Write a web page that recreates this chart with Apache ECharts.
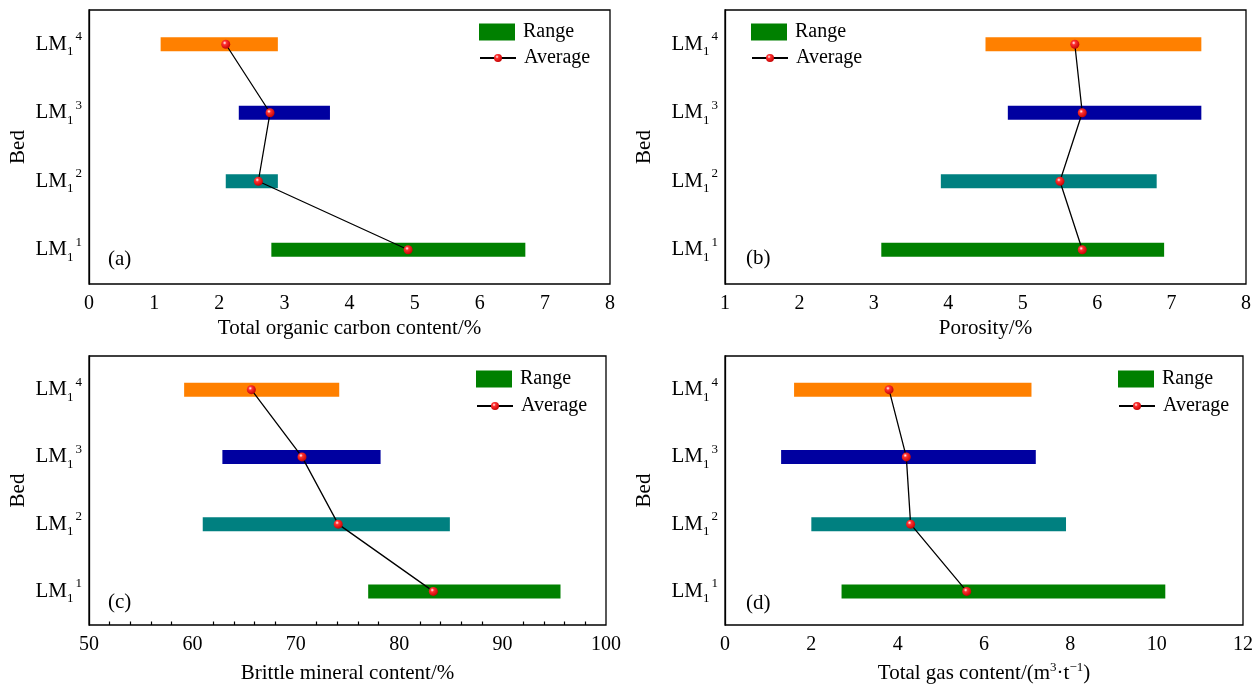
<!DOCTYPE html>
<html>
<head>
<meta charset="utf-8">
<script src="https://cdn.jsdelivr.net/npm/echarts@6/dist/echarts.min.js"></script>
<style>
  html, body { margin: 0; padding: 0; background: #fff; }
  #chart { width: 1260px; height: 686px; }
</style>
</head>
<body>
<div id="chart"></div>
<script>
// beds, bottom to top: LM1^1 .. LM1^4
const beds = ["1", "2", "3", "4"];
const bedColors = ["#008000", "#008080", "#0000A0", "#FF8000"];

// (a) total organic carbon content, %
const tocMin = [2.8, 2.1, 2.3, 1.1];
const tocMax = [6.7, 2.9, 3.7, 2.9];
const tocAvg = [4.9, 2.6, 2.78, 2.1];

// (b) porosity, %
const porMin = [3.1, 3.9, 4.8, 4.5];
const porMax = [6.9, 6.8, 7.4, 7.4];
const porAvg = [5.8, 5.5, 5.8, 5.7];

// (c) brittle mineral content, %
const briMin = [77.0, 61.0, 62.9, 59.2];
const briMax = [95.6, 84.9, 78.2, 74.2];
const briAvg = [83.3, 74.1, 70.6, 65.7];

// (d) total gas content, m3/t
const gasMin = [2.7, 2.0, 1.3, 1.6];
const gasMax = [10.2, 7.9, 7.2, 7.1];
const gasAvg = [5.6, 4.3, 4.2, 3.8];

const FONT = "Liberation Serif";

const panels = [
  {
    tag: "(a)", name: "Total organic carbon content/%",
    min: 0, max: 8, step: 1, minor: false,
    lo: tocMin, hi: tocMax, avg: tocAvg,
    grid: { left: 89, top: 10, width: 521, height: 274 },
    gapX: 32, gapY: 60, legend: [479, 22, 48], tagPos: [108, 249],
  },
  {
    tag: "(b)", name: "Porosity/%",
    min: 1, max: 8, step: 1, minor: false,
    lo: porMin, hi: porMax, avg: porAvg,
    grid: { left: 725, top: 10, width: 521, height: 274 },
    gapX: 32, gapY: 70, legend: [751, 22, 48], tagPos: [746, 248],
  },
  {
    tag: "(c)", name: "Brittle mineral content/%",
    min: 50, max: 100, step: 10, minor: true,
    lo: briMin, hi: briMax, avg: briAvg,
    grid: { left: 89, top: 356, width: 517, height: 272 },
    gapX: 36, gapY: 60, legend: [476, 369, 396], tagPos: [108, 592],
  },
  {
    tag: "(d)", name: "Total gas content/(m{sup|3}·t{sup|−1})",
    min: 0, max: 12, step: 2, minor: false,
    lo: gasMin, hi: gasMax, avg: gasAvg,
    grid: { left: 725, top: 356, width: 518, height: 273 },
    gapX: 36, gapY: 70, legend: [1118, 369, 396], tagPos: [746, 593],
  },
];

const dot = {
  type: "radial", x: 0.38, y: 0.35, r: 0.7,
  colorStops: [
    { offset: 0, color: "#ffffff" },
    { offset: 0.3, color: "#ff3030" },
    { offset: 1, color: "#c00000" },
  ],
};

const axisLineStyle = { color: "#000", width: 1.3 };

let option = {
  backgroundColor: "#fff",
  animation: false,
  grid: [],
  xAxis: [],
  yAxis: [],
  legend: [],
  series: [],
  graphic: [],
};

panels.forEach((p, i) => {
  option.grid.push(Object.assign({
    show: true, borderColor: "#000", borderWidth: 1.3, backgroundColor: "transparent",
  }, p.grid));

  option.xAxis.push({
    type: "value", gridIndex: i,
    min: p.min, max: p.max, interval: p.step,
    name: p.name, nameLocation: "middle", nameGap: p.gapX,
    nameTextStyle: {
      fontFamily: FONT, fontSize: 21, color: "#000", lineHeight: 24,
      rich: { sup: { fontFamily: FONT, fontSize: 13, lineHeight: 14, verticalAlign: "top", color: "#000" } },
    },
    axisLine: { lineStyle: axisLineStyle },
    axisTick: { inside: true, length: 6, lineStyle: axisLineStyle },
    minorTick: { show: p.minor, splitNumber: 5, length: 3.5, lineStyle: { color: "#000", width: 1.2 } },
    axisLabel: { fontFamily: FONT, fontSize: 20, color: "#000", margin: 10 },
    splitLine: { show: false },
  });

  option.yAxis.push({
    type: "category", gridIndex: i, data: beds, boundaryGap: true,
    name: "Bed", nameLocation: "middle", nameGap: p.gapY, nameRotate: 90,
    nameTextStyle: { fontFamily: FONT, fontSize: 21, color: "#000" },
    axisLine: { lineStyle: axisLineStyle },
    axisTick: { inside: true, length: 6, alignWithLabel: true, lineStyle: axisLineStyle },
    axisLabel: {
      margin: 7, color: "#000",
      formatter: (v) => "{m|LM}{s|1}{p|" + v + "}",
      rich: {
        m: { fontFamily: FONT, fontSize: 21, lineHeight: 28, verticalAlign: "middle", color: "#000" },
        s: { fontFamily: FONT, fontSize: 13, lineHeight: 13, verticalAlign: "bottom", color: "#000" },
        p: { fontFamily: FONT, fontSize: 13, lineHeight: 13, verticalAlign: "top", color: "#000", padding: [0, 0, 0, 2] },
      },
    },
    splitLine: { show: false },
  });

  option.legend.push({
    left: p.legend[0], top: p.legend[1], padding: 0,
    itemWidth: 36, itemHeight: 17, selectedMode: false,
    data: [{ name: "Range", icon: "rect" }],
    textStyle: { fontFamily: FONT, fontSize: 20, color: "#000", padding: [0, 0, 0, 3] },
  });
  option.legend.push({
    left: p.legend[0], top: p.legend[2], padding: 0,
    itemWidth: 36, itemHeight: 10, selectedMode: false,
    data: ["Average"],
    textStyle: { fontFamily: FONT, fontSize: 20, color: "#000", padding: [0, 0, 0, 3] },
  });

  option.series.push({
    type: "custom", name: "Range",
    xAxisIndex: i, yAxisIndex: i,
    itemStyle: { color: "#008000" },
    encode: { x: [1, 2], y: 0 },
    data: beds.map((b, k) => [k, p.lo[k], p.hi[k]]),
    renderItem: (params, api) => {
      const a = api.coord([api.value(1), api.value(0)]);
      const b = api.coord([api.value(2), api.value(0)]);
      const h = 14;
      return {
        type: "rect",
        shape: { x: a[0], y: a[1] - h / 2, width: b[0] - a[0], height: h },
        style: { fill: bedColors[params.dataIndex] },
      };
    },
    z: 2,
  });

  option.series.push({
    type: "line", name: "Average",
    xAxisIndex: i, yAxisIndex: i,
    data: p.avg,
    symbol: "circle", symbolSize: 9,
    lineStyle: { color: "#000", width: 1.3 },
    itemStyle: { color: dot },
    z: 3,
  });

  option.graphic.push({
    type: "text", left: p.tagPos[0], top: p.tagPos[1],
    style: { text: p.tag, font: '21px "' + FONT + '"', fill: "#000" },
  });
});

const myChart = echarts.init(document.getElementById("chart"));
myChart.setOption(option);
</script>
</body>
</html>
